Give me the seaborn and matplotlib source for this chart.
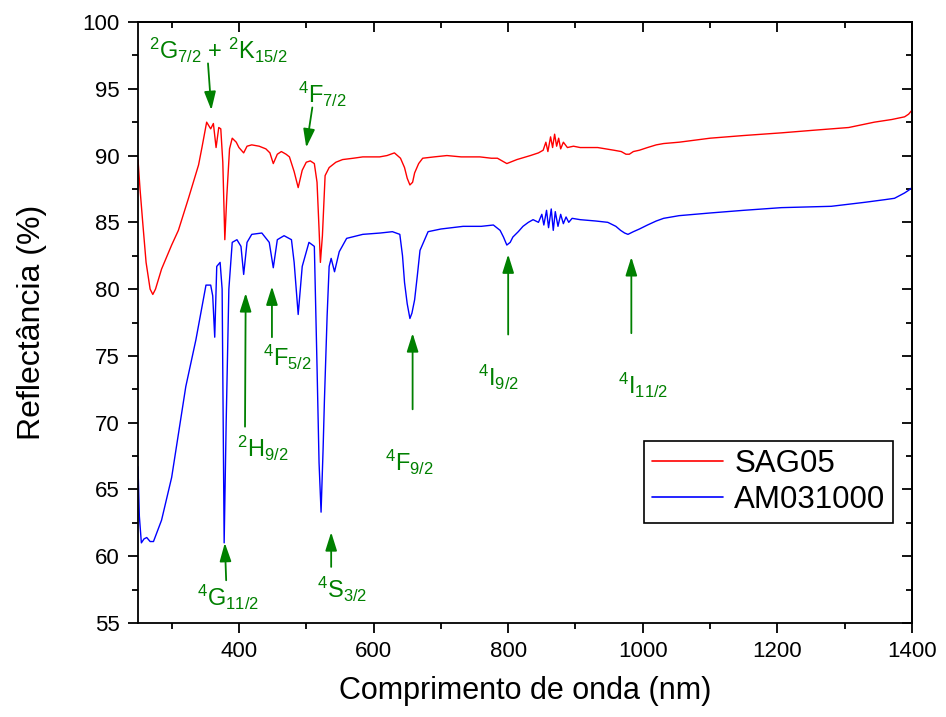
import matplotlib
matplotlib.use("Agg")
import matplotlib.pyplot as plt
import seaborn as sns
import pandas as pd

# ---------------- data ----------------
sag05_nm = [250, 253, 257, 262, 268, 272, 276, 285, 300, 310, 325, 340, 345, 352, 358, 362,
            366, 370, 373, 376, 379, 382, 386, 390, 396, 400, 407, 412, 419, 430, 440, 446,
            451, 457, 463, 470, 475, 482, 488, 494, 500, 506, 512, 516, 519, 521, 524, 528,
            534, 544, 554, 570, 584, 600, 609, 620, 631, 640, 646, 650, 654, 658, 661, 667,
            673, 690, 709, 730, 758, 775, 784, 798, 813, 833, 845, 852, 856, 859, 863, 866,
            869, 872, 875, 878, 882, 888, 897, 907, 920, 933, 945, 957, 968, 975, 980, 986,
            995, 1007, 1020, 1031, 1054, 1100, 1150, 1206, 1255, 1306, 1344, 1370, 1389,
            1395, 1400]
sag05_r = [89.7, 87.5, 85.0, 82.0, 80.0, 79.6, 80.0, 81.5, 83.3, 84.4, 86.8, 89.3, 90.6, 92.5,
           92.0, 92.4, 90.6, 92.1, 92.0, 89.5, 83.7, 87.0, 90.5, 91.3, 91.0, 90.6, 90.2, 90.7,
           90.8, 90.7, 90.5, 90.2, 89.4, 90.1, 90.3, 90.1, 89.9, 88.8, 87.6, 88.9, 89.5, 89.6,
           89.4, 88.0, 84.5, 82.0, 84.0, 88.5, 89.1, 89.5, 89.7, 89.8, 89.9, 89.9, 89.9, 90.0,
           90.2, 89.8, 89.1, 88.3, 87.8, 88.0, 88.7, 89.4, 89.8, 89.9, 90.0, 89.9, 89.9, 89.8,
           89.8, 89.4, 89.7, 90.0, 90.2, 90.4, 91.0, 90.3, 91.4, 90.6, 91.6, 90.7, 91.3, 90.5,
           91.0, 90.6, 90.7, 90.6, 90.6, 90.6, 90.5, 90.4, 90.3, 90.1, 90.1, 90.3, 90.4, 90.6,
           90.8, 90.9, 91.0, 91.3, 91.5, 91.7, 91.9, 92.1, 92.5, 92.7, 92.9, 93.1, 93.4]

am031000_nm = [250, 252, 255, 259, 263, 268, 273, 285, 300, 321, 336, 351, 358, 361, 364, 367,
               372, 375, 378, 381, 385, 390, 397, 403, 407, 412, 419, 434, 445, 451, 457, 467,
               478, 482, 488, 494, 504, 512, 516, 519, 522, 525, 527, 531, 534, 537, 542, 549,
               560, 584, 610, 628, 639, 643, 646, 650, 654, 657, 661, 665, 669, 681, 700, 733,
               760, 778, 788, 793, 798, 803, 807, 815, 822, 830, 837, 845, 850, 853, 857, 860,
               864, 867, 870, 874, 878, 882, 886, 890, 895, 907, 930, 948, 960, 967, 973, 978,
               986, 995, 1007, 1020, 1031, 1054, 1100, 1150, 1206, 1280, 1330, 1360, 1374, 1389,
               1395, 1400]
am031000_r = [66.7, 63.0, 61.0, 61.3, 61.4, 61.1, 61.1, 62.7, 65.9, 72.7, 76.2, 80.3, 80.3, 79.5,
              76.4, 81.7, 82.0, 80.0, 61.0, 70.0, 80.0, 83.5, 83.7, 83.2, 81.1, 83.5, 84.1, 84.2,
              83.5, 81.6, 83.7, 84.0, 83.7, 82.0, 78.1, 81.7, 83.5, 83.2, 74.2, 67.0, 63.3, 68.0,
              71.7, 78.0, 81.7, 82.3, 81.3, 82.8, 83.8, 84.1, 84.2, 84.3, 84.1, 82.5, 80.5, 78.9,
              77.8, 78.2, 79.2, 81.0, 82.9, 84.3, 84.5, 84.7, 84.7, 84.8, 84.4, 83.9, 83.3, 83.5,
              83.9, 84.3, 84.7, 85.0, 85.2, 85.0, 85.6, 84.8, 85.9, 84.6, 86.0, 84.4, 85.8, 84.7,
              85.6, 84.9, 85.4, 85.0, 85.3, 85.2, 85.1, 85.0, 84.7, 84.4, 84.2, 84.1, 84.3, 84.5,
              84.8, 85.1, 85.3, 85.5, 85.7, 85.9, 86.1, 86.2, 86.5, 86.7, 86.8, 87.2, 87.4, 87.6]

series_names = ["SAG05", "AM031000"]
series_colors = ["#ff0000", "#0000ff"]

x_ticks = [400, 600, 800, 1000, 1200, 1400]
y_ticks = [55, 60, 65, 70, 75, 80, 85, 90, 95, 100]

# annotation labels: (text, text position, arrow tail, arrow tip)
annotations = [
    (r"$^{2}$G$_{7/2}$ + $^{2}$K$_{15/2}$", (369, 97.9), (354, 96.9), (359, 93.4)),
    (r"$^{4}$F$_{7/2}$", (524, 94.6), (509, 93.6), (500, 90.6)),
    (r"$^{2}$H$_{9/2}$", (436, 68.1), (409, 69.7), (410, 79.7)),
    (r"$^{4}$F$_{5/2}$", (472, 74.9), (449, 76.4), (449, 80.2)),
    (r"$^{4}$G$_{11/2}$", (384, 56.9), (381, 58.2), (379, 61.0)),
    (r"$^{4}$S$_{3/2}$", (554, 57.5), (537, 59.2), (537, 61.8)),
    (r"$^{4}$F$_{9/2}$", (654, 67.0), (658, 71.0), (658, 76.7)),
    (r"$^{4}$I$_{9/2}$", (785, 73.4), (800, 76.6), (800, 82.6)),
    (r"$^{4}$I$_{11/2}$", (1000, 72.8), (983, 76.7), (983, 82.4)),
]

# ---------------- style ----------------
sns.set_style("ticks")
plt.rcParams["font.family"] = ["Liberation Sans", "DejaVu Sans"]
plt.rcParams["text.color"] = "black"
plt.rcParams["axes.labelcolor"] = "black"
plt.rcParams["xtick.color"] = "black"
plt.rcParams["ytick.color"] = "black"
plt.rcParams["axes.edgecolor"] = "black"
plt.rcParams["mathtext.fontset"] = "custom"
plt.rcParams["mathtext.rm"] = "Liberation Sans"
plt.rcParams["mathtext.it"] = "Liberation Sans"
plt.rcParams["mathtext.bf"] = "Liberation Sans:bold"
plt.rcParams["mathtext.default"] = "rm"

df = pd.concat([
    pd.DataFrame({"nm": sag05_nm, "R": sag05_r, "amostra": series_names[0]}),
    pd.DataFrame({"nm": am031000_nm, "R": am031000_r, "amostra": series_names[1]}),
], ignore_index=True)

fig = plt.figure(figsize=(9.46, 7.17), dpi=100)
ax = fig.add_axes([138 / 946, 1 - 623 / 717, (912 - 138) / 946, (623 - 22) / 717])

sns.lineplot(data=df, x="nm", y="R", hue="amostra", palette=series_colors,
             hue_order=series_names, estimator=None, sort=False, lw=1.0, ax=ax)

ax.set_xlim(250, 1400)
ax.set_ylim(55, 100)
ax.set_xticks(x_ticks)
ax.set_yticks(y_ticks)
ax.set_xticks([300, 500, 700, 900, 1100, 1300], minor=True)
ax.set_yticks([57.5, 62.5, 67.5, 72.5, 77.5, 82.5, 87.5, 92.5, 97.5], minor=True)
ax.tick_params(which="major", direction="out", length=7, width=1.3, labelsize=16,
               colors="black", pad=6)
ax.tick_params(which="minor", direction="out", length=4, width=1.3, colors="black")
for s in ax.spines.values():
    s.set_linewidth(1.3)
    s.set_color("black")

# inward ticks on top and right
secx = ax.secondary_xaxis("top")
secx.set_xticks(x_ticks)
secx.set_xticks([300, 500, 700, 900, 1100, 1300], minor=True)
secx.tick_params(which="major", direction="in", length=7, width=1.3, labeltop=False)
secx.tick_params(which="minor", direction="in", length=4, width=1.3)
secx.spines["top"].set_linewidth(1.3)
secy = ax.secondary_yaxis("right")
secy.set_yticks(y_ticks)
secy.set_yticks([57.5, 62.5, 67.5, 72.5, 77.5, 82.5, 87.5, 92.5, 97.5], minor=True)
secy.tick_params(which="major", direction="in", length=7, width=1.3, labelright=False)
secy.tick_params(which="minor", direction="in", length=4, width=1.3)
secy.spines["right"].set_linewidth(1.3)

ax.set_xlabel("Comprimento de onda (nm)", fontsize=22, labelpad=10, color="black")
ax.set_ylabel("Reflectância (%)", fontsize=23, labelpad=26, color="black")

green = "#008000"
for text, tpos, tail, tip in annotations:
    ax.annotate("", xy=tip, xytext=tail,
                arrowprops=dict(arrowstyle="-|>,head_length=0.7,head_width=0.22",
                                color=green, lw=1.3, mutation_scale=16,
                                shrinkA=0, shrinkB=0))
    ax.text(tpos[0], tpos[1], text, color=green, fontsize=17,
            ha="center", va="center")

leg = ax.legend(loc="lower right", bbox_to_anchor=(0.976, 0.166), fontsize=22.5,
                frameon=True, fancybox=False, edgecolor="black", framealpha=1,
                handlelength=2.3, borderpad=0.25, labelspacing=0.2, handletextpad=0.35,
                borderaxespad=0)
leg.get_frame().set_linewidth(1.2)
for t in leg.get_texts():
    t.set_color("black")
for h in leg.get_lines():
    h.set_linewidth(1.2)

fig.savefig("out.png", dpi=100, facecolor="white")
